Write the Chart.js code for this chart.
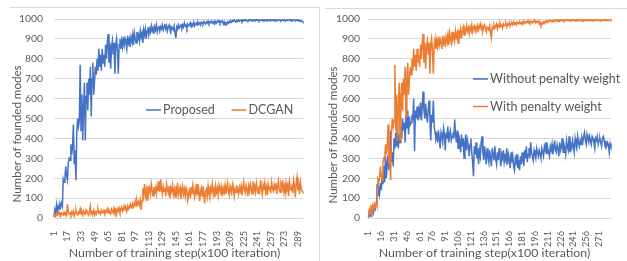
<!DOCTYPE html>
<html>
<head>
<meta charset="utf-8">
<script src="https://cdn.jsdelivr.net/npm/chart.js@4.4.1/dist/chart.umd.min.js"></script>
<style>
  body { margin: 0; background: #fff; }
  #wrap { position: relative; width: 627px; height: 261px; overflow: hidden; }
  canvas { position: absolute; top: 0; }
  #c1 { left: 0; }
  #c2 { left: 319px; }
  .edge { position: absolute; background: #d9d9d9; }
</style>
</head>
<body>
<div id="wrap">
  <div class="edge" style="left:10px;top:7px;width:310px;height:1px"></div>
  <div class="edge" style="left:319px;top:7px;width:1px;height:254px"></div>
  <div class="edge" style="left:325px;top:8px;width:302px;height:1px"></div>
  <canvas id="c1" width="319" height="261"></canvas>
  <canvas id="c2" width="308" height="261"></canvas>
</div>
<script>
// ---- data ----
// left chart
var proposed = [
	5, 40, 20, 65, 30, 60, 45, 70, 55, 75, 60, 195, 180, 200, 260, 210, 190, 280, 300, 290,
	370, 320, 360, 470, 270, 340, 190, 430, 500, 460, 490, 770, 440, 620, 390, 560, 680, 390, 610, 680,
	540, 700, 620, 760, 510, 700, 780, 620, 690, 760, 720, 800, 740, 850, 760, 820, 740, 850, 780, 820,
	760, 870, 800, 880, 925, 780, 880, 750, 860, 890, 820, 880, 725, 870, 900, 840, 725, 870, 900, 850,
	890, 860, 910, 870, 900, 880, 850, 915, 880, 900, 860, 910, 890, 920, 870, 930, 900, 880, 935, 900,
	920, 890, 940, 910, 930, 880, 945, 920, 950, 900, 940, 960, 920, 950, 935, 965, 940, 955, 925, 960,
	945, 970, 935, 955, 965, 940, 960, 950, 970, 945, 960, 975, 950, 965, 940, 960, 970, 950, 935, 960,
	955, 945, 965, 930, 905, 960, 950, 970, 955, 965, 975, 950, 970, 960, 980, 965, 970, 955, 975, 965,
	970, 980, 960, 975, 970, 985, 965, 975, 980, 970, 985, 975, 980, 970, 985, 980, 975, 988, 980, 975,
	985, 980, 990, 978, 985, 982, 990, 980, 985, 975, 990, 985, 980, 990, 985, 992, 980, 988, 985, 990,
	975, 985, 970, 980, 975, 985, 978, 988, 982, 990, 985, 992, 988, 995, 990, 985, 993, 990, 996, 988,
	992, 995, 988, 996, 992, 998, 990, 995, 993, 990, 996, 992, 998, 994, 990, 996, 993, 995, 990, 997,
	993, 996, 990, 995, 998, 992, 996, 990, 994, 998, 992, 995, 990, 996, 993, 998, 991, 995, 997, 992,
	996, 993, 998, 990, 995, 997, 993, 996, 991, 995, 998, 993, 996, 990, 994, 997, 992, 995, 998, 993,
	996, 991, 995, 998, 993, 990, 996, 992, 995, 990, 994, 988, 992, 990, 985
];
var dcgan = [
	5, 15, 10, 25, 15, 20, 30, 15, 10, 25, 20, 15, 30, 20, 25, 15, 70, 30, 20, 25,
	15, 30, 20, 35, 10, 25, 40, 20, 15, 30, 25, 45, 20, 30, 15, 35, 25, 20, 40, 30,
	25, 15, 35, 60, 20, 30, 25, 40, 15, 30, 20, 35, 45, 25, 30, 20, 40, 30, 25, 45,
	20, 35, 30, 45, 25, 40, 30, 20, 45, 35, 25, 50, 30, 40, 20, 45, 35, 50, 30, 40,
	55, 35, 45, 60, 40, 50, 35, 60, 45, 55, 70, 50, 60, 75, 55, 65, 85, 60, 90, 70,
	80, 65, 90, 40, 85, 150, 120, 170, 110, 140, 90, 160, 130, 150, 120, 170, 140, 110, 155, 130,
	150, 120, 165, 140, 185, 130, 195, 145, 120, 160, 135, 150, 110, 170, 140, 125, 160, 100, 150, 135,
	165, 120, 145, 105, 160, 130, 175, 115, 140, 155, 95, 135, 160, 120, 145, 110, 150, 130, 90, 125,
	140, 100, 155, 120, 165, 130, 105, 150, 125, 170, 115, 140, 85, 130, 150, 110, 160, 120, 75, 135,
	145, 110, 160, 125, 100, 150, 135, 170, 120, 145, 105, 160, 130, 150, 115, 165, 140, 125, 155, 110,
	150, 130, 165, 120, 145, 175, 135, 115, 160, 140, 125, 170, 150, 110, 145, 130, 165, 140, 120, 155,
	135, 160, 115, 150, 180, 140, 125, 165, 145, 110, 160, 135, 170, 150, 120, 185, 140, 160, 130, 175,
	145, 125, 160, 135, 190, 150, 120, 165, 140, 175, 130, 155, 115, 170, 145, 160, 125, 180, 150, 135,
	165, 140, 175, 120, 155, 185, 145, 130, 170, 150, 190, 135, 160, 125, 175, 145, 165, 110, 180, 150,
	140, 170, 125, 190, 160, 105, 175, 205, 140, 165, 120, 180, 150, 135, 130
];

// right chart (the "with penalty" run is the same curve as "Proposed", just 285 steps)
var withPenalty = proposed.slice(0, 285);
var withoutPenalty = [
	0, 30, 10, 45, 20, 55, 30, 60, 45, 70, 170, 110, 150, 120, 175, 140, 200, 170, 260, 180,
	310, 200, 270, 320, 240, 300, 440, 280, 330, 260, 400, 350, 430, 360, 470, 350, 420, 380, 460, 400,
	500, 440, 480, 380, 520, 450, 540, 420, 510, 470, 480, 520, 490, 600, 335, 540, 500, 560, 490, 545,
	520, 580, 490, 560, 635, 540, 500, 575, 520, 480, 545, 590, 500, 390, 520, 480, 590, 460, 430, 400,
	420, 380, 440, 400, 350, 430, 410, 380, 450, 420, 340, 430, 400, 460, 380, 420, 440, 390, 410, 430,
	400, 495, 420, 380, 440, 350, 410, 390, 330, 420, 360, 400, 300, 380, 420, 340, 390, 360, 310, 370,
	400, 330, 280, 210, 360, 320, 380, 300, 350, 270, 340, 310, 380, 410, 330, 290, 360, 320, 270, 350,
	310, 280, 340, 300, 260, 350, 320, 290, 360, 300, 270, 330, 290, 350, 310, 260, 320, 300, 340, 280,
	310, 290, 350, 270, 320, 300, 250, 330, 280, 310, 260, 240, 300, 280, 320, 250, 290, 240, 310, 270,
	330, 290, 260, 340, 300, 360, 280, 320, 350, 300, 380, 330, 310, 290, 340, 320, 300, 350, 330, 310,
	340, 320, 300, 350, 330, 310, 360, 340, 380, 320, 350, 330, 310, 360, 340, 370, 320, 350, 390, 340,
	330, 370, 350, 310, 380, 340, 360, 400, 330, 370, 350, 320, 390, 360, 340, 410, 330, 370, 350, 390,
	360, 330, 400, 370, 350, 410, 380, 360, 390, 370, 400, 380, 410, 430, 390, 370, 420, 400, 380, 410,
	390, 370, 410, 400, 380, 350, 400, 390, 410, 370, 390, 400, 380, 360, 400, 410, 390, 370, 380, 360,
	380, 370, 330, 375, 360
];

var yTicks = [0, 100, 200, 300, 400, 500, 600, 700, 800, 900, 1000];
var xTitle = "Number of training step(x100 iteration)";
var yTitle = "Number of founded modes";

var BLUE = "#4472C4";
var ORANGE = "#ED7D31";
var GREY = "#595959";
var FONT = "Lato, 'Open Sans', sans-serif";

function steps(n) {
	var out = [];
	for (var i = 1; i <= n; i++) out.push(String(i));
	return out;
}

// draws axis titles and the in-plot legend
var extraText = {
	id: "extraText",
	afterDraw: function (chart, args, opts) {
		var ctx = chart.ctx;
		ctx.save();
		ctx.fillStyle = GREY;
		ctx.textBaseline = "middle";

		ctx.font = "12.3px " + FONT;
		ctx.textAlign = "center";
		ctx.fillText(xTitle, opts.xTitle[0], opts.xTitle[1]);
		ctx.save();
		ctx.translate(opts.yTitle[0], opts.yTitle[1]);
		ctx.rotate(-Math.PI / 2);
		ctx.font = "11.6px " + FONT;
		ctx.fillText(yTitle, 0, 0);
		ctx.restore();

		ctx.font = "12.5px " + FONT;
		ctx.textAlign = "left";
		chart.data.datasets.forEach(function (ds, i) {
			var p = opts.legend[i];
			ctx.strokeStyle = ds.borderColor;
			ctx.lineWidth = 1.5;
			ctx.beginPath();
			ctx.moveTo(p[0], p[1]);
			ctx.lineTo(p[0] + 15, p[1]);
			ctx.stroke();
			ctx.fillText(ds.label, p[0] + 17, p[1]);
		});
		ctx.restore();
	}
};

function makeChart(el, cfg) {
	return new Chart(el, {
		type: "line",
		data: {
			labels: steps(cfg.series[0].data.length),
			datasets: cfg.series.map(function (s) {
				return {
					label: s.label,
					data: s.data,
					borderColor: s.color,
					backgroundColor: s.color,
					borderWidth: 1.5,
					pointRadius: 0,
					tension: 0,
					fill: false,
					order: s.order
				};
			})
		},
		options: {
			responsive: false,
			animation: false,
			events: [],
			layout: { padding: { left: 0, right: cfg.padRight, top: 19, bottom: 0 } },
			plugins: {
				legend: { display: false },
				tooltip: { enabled: false },
				extraText: cfg.text
			},
			scales: {
				x: {
					type: "category",
					offset: true,
					grid: { display: false },
					border: { display: false },
					ticks: {
						autoSkip: false,
						minRotation: 90,
						maxRotation: 90,
						padding: 5,
						color: GREY,
						font: { family: FONT, size: 9.2 },
						callback: function (val, index) {
							return index % cfg.every === 0 ? this.getLabelForValue(val) : "";
						}
					},
					afterFit: function (s) { s.height = 43; }
				},
				y: {
					min: 0,
					max: 1000,
					afterBuildTicks: function (s) {
						s.ticks = yTicks.map(function (v) { return { value: v }; });
					},
					grid: { color: "#D9D9D9", lineWidth: 1, drawTicks: false },
					border: { display: false },
					ticks: {
						padding: cfg.tickPad,
						color: GREY,
						font: { family: FONT, size: 10.4 },
						callback: function (v) { return String(v); }
					},
					afterFit: function (s) { s.width = cfg.yWidth; }
				}
			}
		},
		plugins: [extraText]
	});
}

makeChart(document.getElementById("c1"), {
	series: [
		{ label: "Proposed", data: proposed, color: BLUE, order: 2 },
		{ label: "DCGAN", data: dcgan, color: ORANGE, order: 1 }
	],
	every: 16,
	padRight: 7,
	yWidth: 53.5,
	tickPad: 10.5,
	text: {
		xTitle: [174.5, 253],
		yTitle: [17, 134],
		legend: [[146, 110], [231.5, 110]]
	}
});

makeChart(document.getElementById("c2"), {
	series: [
		{ label: "Without penalty weight", data: withoutPenalty, color: BLUE, order: 2 },
		{ label: "With penalty weight", data: withPenalty, color: ORANGE, order: 1 }
	],
	every: 15,
	padRight: 2,
	yWidth: 49,
	tickPad: 8,
	text: {
		xTitle: [165.5, 253],
		yTitle: [14.5, 135],
		legend: [[154, 79], [154, 106.5]]
	}
});
</script>
</body>
</html>
